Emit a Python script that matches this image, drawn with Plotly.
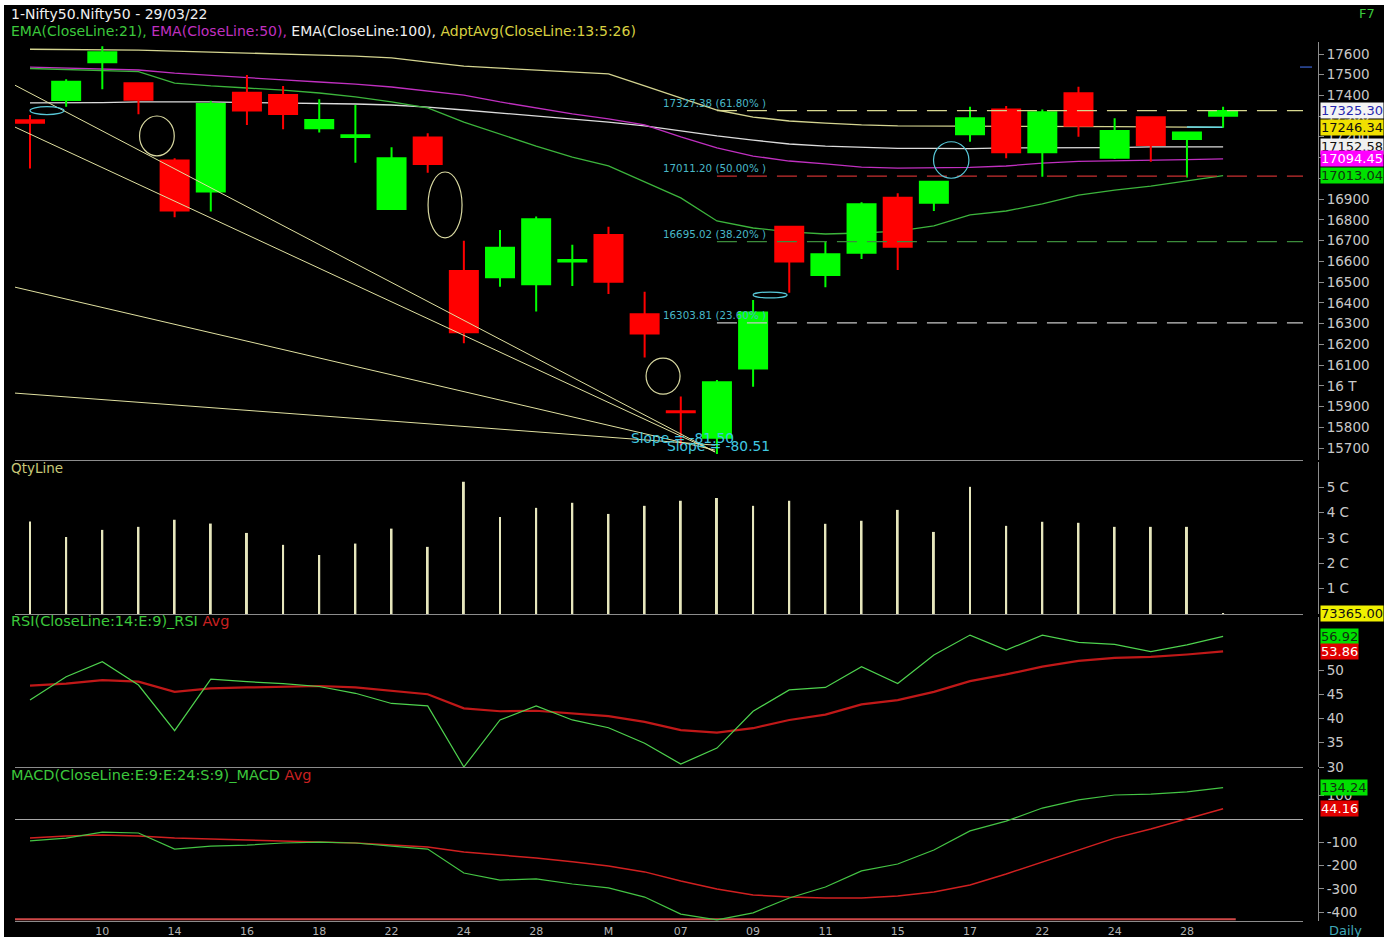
import plotly.graph_objects as go

W, H = 1392, 937

# ---------------- data ----------------
dates = ["2022-02-08", "2022-02-09", "2022-02-10", "2022-02-11", "2022-02-14", "2022-02-15",
         "2022-02-16", "2022-02-17", "2022-02-18", "2022-02-21", "2022-02-22", "2022-02-23",
         "2022-02-24", "2022-02-25", "2022-02-28", "2022-03-02", "2022-03-03", "2022-03-04",
         "2022-03-07", "2022-03-08", "2022-03-09", "2022-03-10", "2022-03-11", "2022-03-14",
         "2022-03-15", "2022-03-16", "2022-03-17", "2022-03-21", "2022-03-22", "2022-03-23",
         "2022-03-24", "2022-03-25", "2022-03-28", "2022-03-29"]
tick_pos = [2, 4, 6, 8, 10, 12, 14, 16, 18, 20, 22, 24, 26, 28, 30, 32]
tick_text = ["10", "14", "16", "18", "22", "24", "28", "M", "07", "09", "11", "15", "17", "22", "24", "28"]

opens = [17280, 17378, 17560, 17459, 17086, 16937, 17413, 17402, 17242, 17200, 16853, 17198,
         16554, 16523, 16490, 16600, 16727, 16345, 15877, 15750, 16084, 16767, 16534, 16642,
         16907, 16883, 17213, 17333, 17126, 17411, 17100, 17295, 17190, 17302]
highs = [17306, 17478, 17638, 17462, 17097, 17375, 17499, 17446, 17382, 17354, 17150, 17218,
         16700, 16751, 16816, 16680, 16767, 16454, 15948, 16028, 16414, 16767, 16695, 16885,
         16928, 16987, 17346, 17349, 17333, 17442, 17290, 17295, 17225, 17346]
lows = [17048, 17346, 17430, 17310, 16813, 16840, 17258, 17237, 17221, 17076, 16848, 17028,
        16205, 16478, 16358, 16481, 16443, 16136, 15712, 15671, 15996, 16449, 16475, 16612,
        16559, 16843, 17177, 17097, 17008, 17201, 17094, 17081, 17005, 17245]
closes = [17268, 17466, 17608, 17380, 16845, 17359, 17327, 17311, 17282, 17208, 17097, 17070,
          16258, 16666, 16803, 16607, 16502, 16252, 15872, 16017, 16353, 16599, 16634, 16875,
          16671, 16984, 17290, 17126, 17319, 17254, 17229, 17161, 17222, 17325.30]

ema21 = [17530, 17525, 17520, 17515, 17460, 17446, 17436, 17426, 17412, 17393, 17369, 17340,
         17272, 17214, 17156, 17103, 17060, 16983, 16906, 16795, 16761, 16742, 16732, 16737,
         16746, 16771, 16824, 16843, 16877, 16920, 16944, 16963, 16988, 17013.04]
ema50 = [17537, 17532, 17528, 17523, 17508, 17496, 17484, 17475, 17465, 17455, 17441, 17422,
         17402, 17369, 17340, 17311, 17287, 17258, 17200, 17147, 17108, 17084, 17070, 17055,
         17050, 17050, 17053, 17060, 17074, 17082, 17084, 17086, 17091, 17094.45]
ema100 = [17364, 17364, 17366, 17369, 17370, 17369, 17366, 17364, 17361, 17359, 17354, 17344,
          17330, 17316, 17301, 17287, 17272, 17253, 17229, 17205, 17185, 17166, 17156, 17149,
          17145, 17145, 17144, 17147, 17147, 17149, 17149, 17152, 17153, 17152.58]
adpt_avg = [17623, 17622, 17621, 17619, 17614, 17610, 17605, 17600, 17595, 17590, 17581, 17561,
            17542, 17532, 17523, 17513, 17504, 17446, 17388, 17330, 17296, 17277, 17267, 17258,
            17253, 17253, 17253, 17252, 17251, 17250, 17250, 17249, 17248, 17246.34]

volume = [36500000, 30400000, 33200000, 34400000, 37200000, 35700000, 32000000, 27300000,
          23300000, 27800000, 33700000, 26500000, 52200000, 38300000, 41900000, 43900000,
          39500000, 42700000, 44700000, 45800000, 42700000, 44700000, 35600000, 36800000,
          41100000, 32400000, 50200000, 34800000, 36400000, 36000000, 34400000, 34400000,
          34400000, 73365]

rsi = [43.8, 48.6, 51.7, 46.9, 37.5, 48.1, 47.6, 47.2, 46.6, 45.2, 43.1, 42.6, 30.0, 39.7,
       42.6, 39.7, 38.1, 34.9, 30.6, 33.9, 41.5, 45.9, 46.4, 50.7, 47.2, 53.1, 57.2, 54.1,
       57.2, 55.7, 55.3, 53.8, 55.2, 56.92]
rsi_avg = [46.8, 47.2, 47.9, 47.6, 45.5, 46.2, 46.4, 46.6, 46.7, 46.4, 45.7, 45.0, 42.1, 41.5,
           41.6, 41.1, 40.5, 39.3, 37.6, 37.1, 38.0, 39.7, 40.8, 42.9, 43.8, 45.5, 47.7, 49.1,
           50.7, 51.9, 52.5, 52.7, 53.2, 53.86]

macd = [-94, -82, -56, -60, -129, -116, -112, -103, -99, -103, -116, -129, -232, -262, -257,
        -279, -296, -335, -408, -433, -403, -339, -292, -223, -193, -133, -51, -9, 47, 82, 103,
        107, 116, 134.24]
macd_avg = [-82, -73, -69, -73, -82, -86, -90, -94, -99, -103, -112, -120, -142, -154, -167,
            -184, -202, -227, -266, -300, -326, -335, -339, -339, -330, -313, -283, -236, -184,
            -133, -82, -43, 0, 44.16]
macd_floor = [-430]

fib_levels = [17327.38, 17011.20, 16695.02, 16303.81]
fib_pcts = ["61.80%", "50.00%", "38.20%", "23.60%"]
fib_colors = ["#d8d890", "#c83030", "#3c8c3c", "#c8c8c8"]
fib_start = 19.0

# trend lines: (x0 idx, y0 price, x1 idx, y1 price)
trend_x0 = [-0.42, -0.42, -0.42, -0.42]
trend_y0 = [17450, 17248, 16476, 15965]
trend_x1 = [18.95, 18.95, 18.95, 18.95]
trend_y1 = [15681, 15681, 15690, 15714]
slope_text = ["Slope = -81.50", "Slope = -80.51"]
slope_x = [18.05, 19.05]
slope_y = [15748, 15710]

# ellipses: centre idx, centre price, half width idx, half height price, colour
ell_cx = [3.51, 11.48, 17.51, 0.47, 20.47, 25.48]
ell_cy = [17205, 16872, 16047, 17327, 16438, 17089]
ell_hw = [0.48, 0.47, 0.47, 0.47, 0.47, 0.49]
ell_hh = [96, 159, 87, 19, 14, 88]
ell_col = ["#d8d8a0", "#d8d8a0", "#d8d8a0", "#58c8d8", "#58c8d8", "#58c8d8"]

main_ticks = [15700, 15800, 15900, 16000, 16100, 16200, 16300, 16400, 16500, 16600, 16700,
              16800, 16900, 17000, 17100, 17200, 17300, 17400, 17500, 17600]
main_tick_text = ["15700", "15800", "15900", "16 T", "16100", "16200", "16300", "16400", "16500",
                  "16600", "16700", "16800", "16900", "17000", "17100", "17200", "17300", "17400",
                  "17500", "17600"]
vol_ticks = [10000000, 20000000, 30000000, 40000000, 50000000]
vol_tick_text = ["1 C", "2 C", "3 C", "4 C", "5 C"]
rsi_ticks = [30, 35, 40, 45, 50]
macd_ticks = [-400, -300, -200, -100, 100]

# ---------------- layout helpers ----------------
def px_x(p):
    return p / W


def px_y(p):
    return 1 - p / H


X_DOM = [px_x(15), px_x(1303)]
AX_POS = px_x(1318)
x_range = [-0.415, 35.21]
main_range = [15642.3, 17657.9]
vol_range = [0, 6.0e7]
rsi_range = [30, 60.93]
macd_range = [-437.8, 214.6]

FONT = "DejaVu Sans"
AXC = "#8c8c8c"
TXC = "#c8c8c8"

x = list(range(len(dates)))

fig = go.Figure()

# main panel lines
fig.add_trace(go.Scatter(x=x, y=ema100, mode="lines", line=dict(color="#dcdcdc", width=1.3),
                         xaxis="x", yaxis="y", hoverinfo="skip"))
fig.add_trace(go.Scatter(x=x, y=ema50, mode="lines", line=dict(color="#c030c0", width=1.3),
                         xaxis="x", yaxis="y", hoverinfo="skip"))
fig.add_trace(go.Scatter(x=x, y=ema21, mode="lines", line=dict(color="#3cb43c", width=1.3),
                         xaxis="x", yaxis="y", hoverinfo="skip"))
fig.add_trace(go.Scatter(x=x, y=adpt_avg, mode="lines", line=dict(color="#d4d490", width=1.3),
                         xaxis="x", yaxis="y", hoverinfo="skip"))
fig.add_trace(go.Scatter(x=x[-2:], y=adpt_avg[-2:], mode="lines", line=dict(color="#60d8e8", width=1.5),
                         xaxis="x", yaxis="y", hoverinfo="skip"))

# candles on an overlaying axis so that they sit above the lines
fig.add_trace(go.Candlestick(
    x=x, open=opens, high=highs, low=lows, close=closes,
    increasing=dict(line=dict(color="#00ff00", width=2), fillcolor="#00ff00"),
    decreasing=dict(line=dict(color="#ff0000", width=2), fillcolor="#ff0000"),
    whiskerwidth=0, xaxis="x", yaxis="y5", hoverinfo="skip"))

# volume
fig.add_trace(go.Bar(x=x, y=volume, width=0.055, marker=dict(color="#e6e6bc", line=dict(width=0)),
                     xaxis="x2", yaxis="y2", hoverinfo="skip"))

# RSI
fig.add_trace(go.Scatter(x=x, y=rsi_avg, mode="lines", line=dict(color="#c01818", width=2.2),
                         xaxis="x3", yaxis="y3", hoverinfo="skip"))
fig.add_trace(go.Scatter(x=x, y=rsi, mode="lines", line=dict(color="#4ed24e", width=1.2),
                         xaxis="x3", yaxis="y3", hoverinfo="skip"))

# MACD
fig.add_trace(go.Scatter(x=[-0.42, 33.35], y=macd_floor * 2, mode="lines",
                         line=dict(color="#d04848", width=2), xaxis="x4", yaxis="y4", hoverinfo="skip"))
fig.add_trace(go.Scatter(x=x, y=macd_avg, mode="lines", line=dict(color="#d02020", width=1.5),
                         xaxis="x4", yaxis="y4", hoverinfo="skip"))
fig.add_trace(go.Scatter(x=x, y=macd, mode="lines", line=dict(color="#44c444", width=1.2),
                         xaxis="x4", yaxis="y4", hoverinfo="skip"))

# ---------------- axes ----------------
def xax(anchor, show_labels=False):
    d = dict(domain=X_DOM, range=x_range, anchor=anchor, showgrid=False, zeroline=False,
             showline=True, linecolor=AXC, linewidth=1, automargin=False)
    if show_labels:
        d.update(tickmode="array", tickvals=tick_pos, ticktext=tick_text, ticks="",
                 tickfont=dict(family=FONT, size=11, color="#b4b4b4"))
    else:
        d.update(showticklabels=False, ticks="")
    return d


def yax(dom_px, rng, tv, tt=None, zeroline=False):
    d = dict(domain=[px_y(dom_px[1]), px_y(dom_px[0])], range=rng, anchor="free", position=AX_POS,
             side="right", showgrid=False, zeroline=zeroline, zerolinecolor="#a8a8a8",
             zerolinewidth=1, showline=True, linecolor=AXC, linewidth=1, ticks="outside",
             ticklen=5, tickcolor=AXC, tickmode="array", tickvals=tv,
             ticktext=tt if tt is not None else [str(v) for v in tv],
             tickfont=dict(family=FONT, size=13.5, color=TXC), automargin=False)
    return d


shapes = []
# black canvas with a thin white frame like the screenshot
shapes.append(dict(type="rect", xref="paper", yref="paper", x0=px_x(4), x1=px_x(1384),
                   y0=0, y1=px_y(5), fillcolor="black", line=dict(width=0), layer="below"))

for lvl, col in zip(fib_levels, fib_colors):
    shapes.append(dict(type="line", xref="x", yref="y", x0=fib_start, x1=x_range[1], y0=lvl, y1=lvl,
                       line=dict(color=col, width=1.3, dash="20px,10px")))

for a, b, c, d in zip(trend_x0, trend_y0, trend_x1, trend_y1):
    shapes.append(dict(type="line", xref="x", yref="y", x0=a, y0=b, x1=c, y1=d,
                       line=dict(color="#e0e0a0", width=1)))

for cx, cy, hw, hh, col in zip(ell_cx, ell_cy, ell_hw, ell_hh, ell_col):
    shapes.append(dict(type="circle", xref="x", yref="y", x0=cx - hw, x1=cx + hw, y0=cy - hh, y1=cy + hh,
                       line=dict(color=col, width=1.2)))

shapes.append(dict(type="line", xref="paper", yref="y", x0=px_x(1300), x1=px_x(1312), y0=17537, y1=17537,
                   line=dict(color="#3050a8", width=1.5)))

ann = []
ann.append(dict(xref="paper", yref="paper", x=px_x(9), y=px_y(14), xanchor="left", yanchor="middle",
                text="1-Nifty50.Nifty50 - 29/03/22", showarrow=False,
                font=dict(family=FONT, size=14, color="#f0f0f0")))
ann.append(dict(xref="paper", yref="paper", x=px_x(9), y=px_y(31), xanchor="left", yanchor="middle",
                text=("<span style='color:#3cc83c'>EMA(CloseLine:21), </span>"
                      "<span style='color:#c030c0'>EMA(CloseLine:50), </span>"
                      "<span style='color:#f0f0f0'>EMA(CloseLine:100), </span>"
                      "<span style='color:#d8d040'>AdptAvg(CloseLine:13:5:26)</span>"),
                showarrow=False, font=dict(family=FONT, size=14)))
ann.append(dict(xref="paper", yref="paper", x=px_x(1377), y=px_y(14), xanchor="right", yanchor="middle",
                text="F7", showarrow=False, font=dict(family=FONT, size=13, color="#3cc83c")))
ann.append(dict(xref="paper", yref="paper", x=px_x(9), y=px_y(468), xanchor="left", yanchor="middle",
                text="QtyLine", showarrow=False, font=dict(family=FONT, size=13.5, color="#c8c878")))
ann.append(dict(xref="paper", yref="paper", x=px_x(9), y=px_y(621), xanchor="left", yanchor="middle",
                text="<span style='color:#3cc83c'>RSI(CloseLine:14:E:9)_RSI </span><span style='color:#c82020'>Avg</span>",
                showarrow=False, font=dict(family=FONT, size=14.5)))
ann.append(dict(xref="paper", yref="paper", x=px_x(9), y=px_y(775), xanchor="left", yanchor="middle",
                text="<span style='color:#3cc83c'>MACD(CloseLine:E:9:E:24:S:9)_MACD </span><span style='color:#c82020'>Avg</span>",
                showarrow=False, font=dict(family=FONT, size=14.5)))
ann.append(dict(xref="paper", yref="paper", x=px_x(1345), y=px_y(930), xanchor="center", yanchor="middle",
                text="Daily", showarrow=False, font=dict(family=FONT, size=13, color="#40a8b8")))

for lvl, pct in zip(fib_levels, fib_pcts):
    ann.append(dict(xref="x", yref="y", x=20.4, y=lvl, xanchor="right", yanchor="middle", yshift=8,
                    text=f"{lvl:.2f} ({pct} )", showarrow=False,
                    font=dict(family=FONT, size=10.3, color="#48b8c8")))

for t, sx, sy in zip(slope_text, slope_x, slope_y):
    ann.append(dict(xref="x", yref="y", x=sx, y=sy, xanchor="center", yanchor="middle", text=t,
                    showarrow=False, font=dict(family=FONT, size=13.8, color="#40c8e0")))

def value_tag(val, yref, bg, fg):
    return dict(xref="paper", yref=yref, x=px_x(1320), y=val, xanchor="left", yanchor="middle",
                text=f"{val:.2f}", showarrow=False, bgcolor=bg, borderpad=0,
                font=dict(family=FONT, size=13, color=fg))

ann.append(value_tag(closes[-1], "y", "#f4f4f4", "#2828b0"))
ann.append(value_tag(adpt_avg[-1], "y", "#f0e000", "#101010"))
ann.append(value_tag(ema100[-1], "y", "#f0f0f0", "#101010"))
ann.append(value_tag(ema50[-1], "y", "#ff00ff", "#ffffff"))
ann.append(value_tag(ema21[-1], "y", "#00e000", "#103010"))
ann.append(value_tag(volume[-1], "y2", "#f0f000", "#101010"))
ann.append(value_tag(rsi[-1], "y3", "#00e000", "#103010"))
ann.append(value_tag(rsi_avg[-1], "y3", "#e00000", "#ffffff"))
ann.append(value_tag(macd[-1], "y4", "#00e000", "#103010"))
ann.append(value_tag(macd_avg[-1], "y4", "#e00000", "#ffffff"))

main_x = xax("y")
main_x["rangeslider"] = dict(visible=False)

fig.update_layout(
    width=W, height=H, template="none", showlegend=False,
    paper_bgcolor="white", plot_bgcolor="black",
    margin=dict(l=0, r=0, t=0, b=0),
    boxgap=0.1, boxgroupgap=0.14,
    xaxis=main_x, xaxis2=xax("y2"), xaxis3=xax("y3"), xaxis4=xax("y4", True),
    yaxis=yax([42, 460], main_range, main_ticks, main_tick_text),
    yaxis2=yax([462, 614], vol_range, vol_ticks, vol_tick_text),
    yaxis3=yax([617, 767], rsi_range, rsi_ticks),
    yaxis4=yax([769, 921], macd_range, macd_ticks, zeroline=True),
    yaxis5=dict(overlaying="y", range=main_range, visible=False, anchor="x"),
    shapes=shapes, annotations=ann,
    font=dict(family=FONT),
)

fig.write_html("out.html", config={"displayModeBar": False},
               post_script="document.body.style.margin='0';document.body.style.overflow='hidden';")
